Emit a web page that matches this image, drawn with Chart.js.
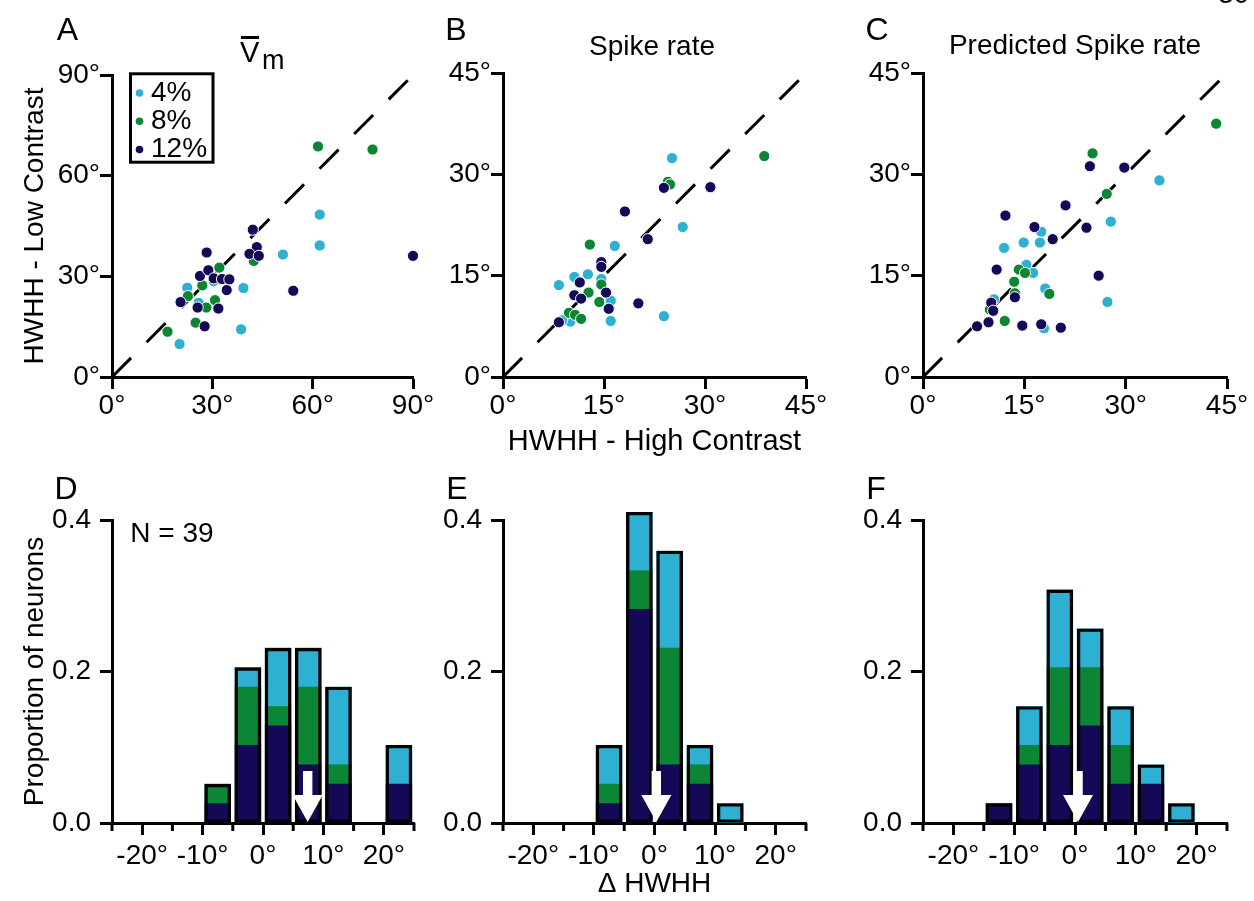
<!DOCTYPE html>
<html><head><meta charset="utf-8">
<script src="https://cdn.jsdelivr.net/npm/chart.js@4.4.1/dist/chart.umd.min.js"></script>
<style>
html,body{margin:0;padding:0;background:#fff;}
#wrap{position:relative;width:1254px;height:901px;overflow:hidden;background:#fff;font-family:'Liberation Sans',Arial,Helvetica,sans-serif;}
canvas{position:absolute;left:0;top:0;}
.t{position:absolute;white-space:nowrap;line-height:1;color:#000;}
.c{transform:translate(-50%,-50%);}
</style></head><body><div id="wrap">
<canvas id="cA" width="1254" height="901"></canvas>
<canvas id="cB" width="1254" height="901"></canvas>
<canvas id="cC" width="1254" height="901"></canvas>
<canvas id="cD" width="1254" height="901"></canvas>
<canvas id="cE" width="1254" height="901"></canvas>
<canvas id="cF" width="1254" height="901"></canvas>

<div class="t" style="font-size:28px;left:1218px;top:-20px">30</div>
<div class="t c" style="font-size:32px;left:67.5px;top:29px">A</div>
<div class="t c" style="font-size:32px;left:456px;top:29px">B</div>
<div class="t c" style="font-size:32px;left:877px;top:29px">C</div>
<div class="t c" style="font-size:32px;left:66px;top:488px">D</div>
<div class="t c" style="font-size:32px;left:457px;top:488px">E</div>
<div class="t c" style="font-size:32px;left:876px;top:488px">F</div>
<div class="t" style="font-size:29px;left:240px;top:38px">V</div>
<div style="position:absolute;left:241px;top:36px;width:18px;height:2.5px;background:#000"></div>
<div class="t" style="font-size:27px;left:262px;top:47px">m</div>
<div class="t c" style="font-size:28px;left:652px;top:46px">Spike rate</div>
<div class="t c" style="font-size:28px;left:1075px;top:45px">Predicted Spike rate</div>
<div class="t c" style="font-size:28px;left:172px;top:533px">N = 39</div>
</div>
<script>
// ---------------- DATA ----------------
// Scatter panels: [HWHH high contrast, HWHH low contrast] in degrees
const A_c4  = [[20.2,9.8],[38.6,14.2],[39.3,26.5],[51.1,36.5],[62.1,48.4],[62.1,39.2],[22.5,26.6],[25.9,22.1],[30.4,28.6]];
const A_c8  = [[61.6,68.7],[77.9,67.8],[16.6,13.5],[25.0,16.2],[28.2,20.7],[30.8,22.9],[27.0,27.3],[22.7,24.1],[32.1,32.6],[42.4,34.6]];
const A_c12 = [[42.1,43.9],[28.3,37.1],[43.3,38.7],[41.1,36.7],[43.9,36.1],[26.3,30.1],[28.8,31.8],[30.4,29.4],[32.9,29.2],[35.1,29.1],[34.3,25.9],[54.2,25.7],[90.0,36.1],[20.5,22.3],[25.6,20.7],[31.8,20.4],[27.7,15.1]];

const B_c4  = [[25.1,32.4],[26.7,22.2],[16.6,19.4],[12.6,15.2],[10.6,14.8],[8.3,13.6],[14.6,14.5],[16.0,11.3],[16.0,8.3],[23.9,9.0],[10.0,8.2],[8.8,8.4]];
const B_c8  = [[38.8,32.7],[24.5,28.9],[24.8,28.5],[12.9,19.6],[14.6,13.7],[12.7,12.5],[14.3,11.1],[9.8,9.5],[10.7,9.2],[11.6,8.6]];
const B_c12 = [[23.9,28.0],[30.8,28.1],[18.1,24.5],[21.5,20.4],[14.6,17.0],[14.6,16.3],[11.4,14.0],[15.3,12.5],[10.6,12.1],[11.6,11.6],[15.7,10.1],[20.1,10.9],[8.3,8.1]];

const C_c4  = [[35.0,29.1],[27.8,23.0],[27.3,11.1],[17.5,21.5],[14.9,19.9],[17.3,19.9],[12.0,19.1],[15.3,16.6],[16.3,15.4],[18.1,13.1],[10.5,11.5],[17.9,7.2]];
const C_c8  = [[43.4,37.5],[25.1,33.1],[27.2,27.1],[14.2,15.9],[15.1,15.4],[13.5,14.1],[18.7,12.3],[13.6,12.4],[9.9,10.0],[12.1,8.3]];
const C_c12 = [[24.7,31.2],[29.8,31.0],[21.1,25.4],[12.2,23.9],[16.5,22.2],[19.2,20.4],[24.2,22.1],[10.9,15.9],[26.0,15.0],[13.6,11.8],[10.1,11.0],[10.4,9.8],[9.7,8.1],[8.0,7.5],[14.7,7.6],[17.5,7.8],[20.4,7.3]];

const contrastLabels = ['4%','8%','12%'];

// Histograms of delta HWHH: bin centres (deg) and neuron counts per contrast
const N_NEURONS = 39;
const binCenters = [-22.5,-17.5,-12.5,-7.5,-2.5,2.5,7.5,12.5,17.5,22.5];
const D_c12 = [0,0,0,1,4,5,3,2,0,2];
const D_c8  = [0,0,0,1,3,1,4,1,0,0];
const D_c4  = [0,0,0,0,1,3,2,4,0,2];
const E_c12 = [0,0,0,1,11,3,2,0,0,0];
const E_c8  = [0,0,0,1,2,6,1,0,0,0];
const E_c4  = [0,0,0,2,3,5,1,1,0,0];
const F_c12 = [0,0,1,3,4,5,2,2,0,0];
const F_c8  = [0,0,0,1,4,3,2,0,0,0];
const F_c4  = [0,0,0,2,4,2,2,1,1,0];
const meanD = 7.4, meanE = 0.3, meanF = 0.5;

const scatterTicks = { A:[0,90,30], B:[0,45,15], C:[0,45,15] };
const histXTicks = [-25,25,5];
const histYTicks = [0,0.4,0.2];

// ---------------- STYLE ----------------
const FONT = "'Liberation Sans', Arial, Helvetica, sans-serif";
Chart.defaults.font.family = FONT;
Chart.defaults.font.size = 28;
Chart.defaults.color = '#000';
const COL = {c4:'#2EB0D3', c8:'#0C8534', c12:'#140956'};
const W = 1254, H = 901;

const boxLegend = {
  id:'boxLegend',
  afterDatasetsDraw(chart, args, o){
    if (!o || !o.show) return;
    const ctx = chart.ctx;
    ctx.save();
    ctx.lineWidth = 3; ctx.strokeStyle = '#000';
    ctx.strokeRect(o.x, o.y, o.w, o.h);
    const items = chart.data.datasets.filter(d => d.label);
    ctx.font = o.size + 'px ' + FONT; ctx.textBaseline = 'middle'; ctx.textAlign = 'left';
    items.forEach((d,i) => {
      const y = o.y0 + i*o.dy;
      ctx.beginPath(); ctx.arc(o.dotX, y, o.r, 0, Math.PI*2);
      ctx.fillStyle = d.pointBackgroundColor; ctx.fill();
      ctx.fillStyle = '#000'; ctx.fillText(d.label, o.textX, y);
    });
    ctx.restore();
  }
};

const minorTicks = {
  id:'minorTicks',
  afterDraw(chart, args, o){
    if (!o || !o.show) return;
    const xs = chart.scales.x, ctx = chart.ctx, y0 = chart.chartArea.bottom;
    ctx.save(); ctx.strokeStyle = '#000'; ctx.lineWidth = o.width;
    xs.ticks.forEach(t => {
      if (Math.abs(t.value % 10) > 1e-9) {
        const x = xs.getPixelForValue(t.value);
        ctx.beginPath(); ctx.moveTo(x, y0); ctx.lineTo(x, y0 + o.len); ctx.stroke();
      }
    });
    ctx.restore();
  }
};

const meanArrow = {
  id:'meanArrow',
  afterDatasetsDraw(chart, args, o){
    if (!o || o.value === undefined) return;
    const ctx = chart.ctx;
    const x = chart.scales.x.getPixelForValue(o.value);
    const yt = chart.scales.y.getPixelForValue(0);
    ctx.save();
    ctx.fillStyle = '#fff';
    ctx.beginPath();
    ctx.moveTo(x - 4.7, yt - 52);
    ctx.lineTo(x + 4.7, yt - 52);
    ctx.lineTo(x + 4.7, yt - 28);
    ctx.lineTo(x + 15, yt - 28);
    ctx.lineTo(x, yt - 1);
    ctx.lineTo(x - 15, yt - 28);
    ctx.lineTo(x - 4.7, yt - 28);
    ctx.closePath();
    ctx.fill();
    ctx.restore();
  }
};

function axis(range, fmt, tl, pad, tickColor){
  return {
    type:'linear', min:range[0], max:range[1], offset:false,
    ticks:{stepSize:range[2], autoSkip:false, padding:pad, callback:fmt, maxRotation:0},
    grid:{display:true, offset:false, drawOnChartArea:false, drawTicks:true, tickLength:tl, tickColor:tickColor || '#000', tickWidth:3},
    border:{display:true, color:'#000', width:3}
  };
}

function scatterPanel(id, area, range, sets, xTitle, yTitle, legendOpts){
  const [l,t,r,b] = area, xH = 100;
  const datasets = sets.map((s,i) => ({
    label:s.label, data:s.pts.map(p => ({x:p[0], y:p[1]})),
    pointBackgroundColor:s.color, pointBorderColor:'#fff', pointBorderWidth:1,
    pointRadius:5.6, order:sets.length - 1 - i, clip:false, showLine:false
  }));
  datasets.push({label:'', data:[{x:range[0],y:range[0]},{x:range[1],y:range[1]}], showLine:true,
    borderColor:'#000', borderWidth:3, borderDash:[27,22], pointRadius:0, order:9, clip:false});
  const xs = axis(range, v => v + '°', 12, 0);
  xs.position = 'bottom';
  xs.afterFit = s => { s.height = xH; };
  xs.title = xTitle ? {display:true, text:xTitle, font:{size:29}, padding:{top:0,bottom:18}} : {display:false};
  const ys = axis(range, v => v + '°', 12, 0);
  ys.position = 'left';
  ys.afterFit = s => { s.width = l; };
  ys.title = yTitle ? {display:true, text:yTitle, font:{size:28}, padding:{top:18,bottom:0}} : {display:false};
  return new Chart(document.getElementById(id), {
    type:'scatter',
    data:{datasets},
    options:{
      responsive:false, animation:false, events:[],
      layout:{padding:{left:0, top:t, right:W - r, bottom:H - b - xH}},
      plugins:{legend:{display:false}, tooltip:{enabled:false}, boxLegend:legendOpts || {show:false}},
      scales:{x:xs, y:ys}
    },
    plugins:[boxLegend]
  });
}

function histPanel(id, area, c12, c8, c4, mean, xTitle, yTitle){
  const [l,t,r,b] = area, xH = 78;
  const totals = binCenters.map((c,i) => c12[i] + c8[i] + c4[i]);
  const toPts = arr => binCenters.map((c,i) => ({x:c, y: arr[i] ? arr[i] / N_NEURONS : null}));
  const base = {type:'bar', grouped:false, barThickness:26, clip:false, borderWidth:0};
  const datasets = [
    Object.assign({}, base, {label:'total', data:toPts(totals), backgroundColor:'rgba(0,0,0,0)', borderColor:'#000', borderWidth:2.7, borderSkipped:false, stack:'o'}),
    Object.assign({}, base, {label:contrastLabels[2], data:toPts(c12), backgroundColor:COL.c12, stack:'s'}),
    Object.assign({}, base, {label:contrastLabels[1], data:toPts(c8), backgroundColor:COL.c8, stack:'s'}),
    Object.assign({}, base, {label:contrastLabels[0], data:toPts(c4), backgroundColor:COL.c4, stack:'s'})
  ];
  const isMajor = v => Math.abs(v % 10) < 1e-9;
  const xs = axis(histXTicks, v => (isMajor(v) && Math.abs(v) < 25) ? v + '°' : '', 12, 4,
    ctx => (ctx.tick && isMajor(ctx.tick.value)) ? '#000' : 'rgba(0,0,0,0)');
  xs.position = 'bottom'; xs.stacked = true;
  xs.afterFit = s => { s.height = xH; };
  xs.title = xTitle ? {display:true, text:xTitle, font:{size:28}, padding:{top:0,bottom:0}} : {display:false};
  const ys = axis(histYTicks, v => Number(v).toFixed(1), 12, 9);
  ys.position = 'left'; ys.stacked = true;
  ys.afterFit = s => { s.width = l; };
  ys.title = yTitle ? {display:true, text:yTitle, font:{size:28}, padding:{top:18,bottom:0}} : {display:false};
  return new Chart(document.getElementById(id), {
    type:'bar',
    data:{datasets},
    options:{
      responsive:false, animation:false, events:[],
      layout:{padding:{left:0, top:t, right:W - r, bottom:Math.max(0, H - b - xH)}},
      plugins:{legend:{display:false}, tooltip:{enabled:false},
        minorTicks:{show:true, len:8, width:3}, meanArrow:{value:mean}},
      scales:{x:xs, y:ys}
    },
    plugins:[minorTicks, meanArrow]
  });
}

const sets = (c4, c8, c12) => [
  {label:contrastLabels[0], pts:c4, color:COL.c4},
  {label:contrastLabels[1], pts:c8, color:COL.c8},
  {label:contrastLabels[2], pts:c12, color:COL.c12}
];

scatterPanel('cA', [112,75,413,377], scatterTicks.A, sets(A_c4,A_c8,A_c12), null, 'HWHH - Low Contrast',
  {show:true, x:130.5, y:73.8, w:82.5, h:88.4, y0:93, dy:28.3, dotX:139.5, r:3.8, textX:151, size:28});
scatterPanel('cB', [503,73,806,377], scatterTicks.B, sets(B_c4,B_c8,B_c12), 'HWHH - High Contrast', null, null);
scatterPanel('cC', [923,73,1227,377], scatterTicks.C, sets(C_c4,C_c8,C_c12), null, null, null);

histPanel('cD', [112,520,414,823], D_c12, D_c8, D_c4, meanD, null, 'Proportion of neurons');
histPanel('cE', [503,520,806,823], E_c12, E_c8, E_c4, meanE, 'Δ HWHH', null);
histPanel('cF', [923,520,1227,823], F_c12, F_c8, F_c4, meanF, null, null);
</script>
</body></html>
